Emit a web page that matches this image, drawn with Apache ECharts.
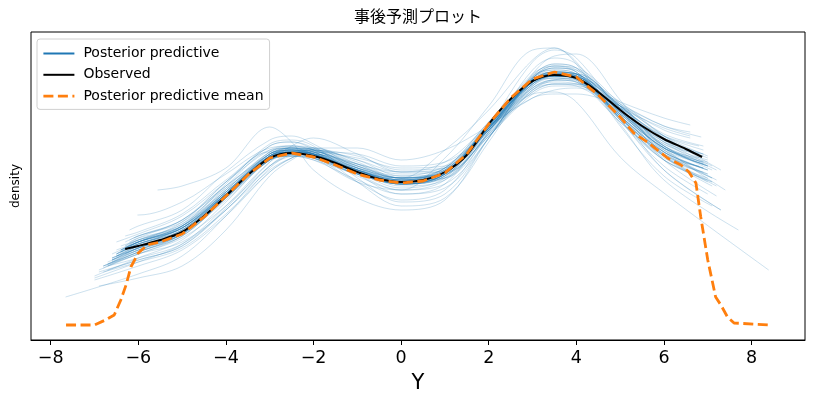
<!DOCTYPE html>
<html lang="ja">
<head>
    <meta charset="UTF-8">
    <title>事後予測プロット</title>
    <script src="https://cdn.jsdelivr.net/npm/echarts@6/dist/echarts.min.js"></script>
    <style>
        html, body { margin: 0; padding: 0; background: #fff; }
        #main { width: 814px; height: 404px; }
    </style>
</head>
<body>
<div id="main"></div>

<script type="text/javascript">
    // x tick labels
    var xTicks = [-8, -6, -4, -2, 0, 2, 4, 6, 8];

    // observed KDE (black)
    var obsX = [-6.3, -6, -5.5, -5, -4.5, -4, -3.5, -3, -2.5, -2, -1.5, -1, -0.5, 0, 0.5, 1, 1.5, 2, 2.5, 3, 3.5, 4, 4.5, 5, 5.5, 6, 6.5, 6.87];
    var obsY = [0.0385, 0.040, 0.043, 0.047, 0.055, 0.065, 0.0755, 0.084, 0.0865, 0.085, 0.0815, 0.077, 0.0735, 0.072, 0.073, 0.077, 0.0855, 0.101, 0.1135, 0.1225, 0.1255, 0.124, 0.117, 0.108, 0.100, 0.0935, 0.0885, 0.0845];

    // posterior predictive mean (orange dashed)
    var meanX = [-7.65, -7.0, -6.75, -6.55, -6.4, -6.28, -6.17, -6.0, -5.8, -5.5, -5, -4.5, -4, -3.5, -3, -2.5, -2, -1.5, -1, -0.5, 0, 0.5, 1, 1.5, 2, 2.5, 3, 3.5, 4, 4.5, 5, 5.31, 5.62, 6.08, 6.39, 6.57, 6.73, 6.84, 7.0, 7.18, 7.3, 7.45, 7.6, 8.42];
    var meanY = [0.0005, 0.0005, 0.003, 0.0055, 0.013, 0.0205, 0.0295, 0.0365, 0.0405, 0.042, 0.046, 0.0545, 0.065, 0.0755, 0.084, 0.0865, 0.0845, 0.0805, 0.076, 0.073, 0.0715, 0.0725, 0.0765, 0.086, 0.101, 0.114, 0.1235, 0.127, 0.1245, 0.1155, 0.1045, 0.0965, 0.092, 0.084, 0.0805, 0.077, 0.0715, 0.0545, 0.033, 0.0145, 0.0105, 0.0045, 0.0015, 0.0005];

    // posterior predictive samples (thin blue): values on a shared grid, each with its own start/end point
    var ppGrid = [-6, -5, -4, -3, -2.5, -2, -1, 0, 1, 2, 3, 3.5, 4, 5, 6];
    var ppStartX = [-6.5, -6.8, -6.2, -7.0, -6.6, -6.4, -6.3, -6.9, -6.7, -6.02, -6.5, -7.0, -6.3, -6.6, -6.8, -6.4, -6.3, -6.6, -6.5, -6.7,
        -5.56, -6.2, -6.9, -7.66, -6.8, -6.3, -6.5, -6.7, -7.0, -6.4, -6.6, -6.9, -6.1, -6.4, -6.6, -6.2, -6.8, -6.7, -6.5, -6.3,
        -6.4, -6.6, -6.3, -6.5, -6.7, -6.2, -6.4, -6.6, -6.5, -6.3, -6.8, -6.4, -6.5, -6.6, -6.2, -6.7, -6.4, -6.5, -6.3, -6.6];
    var ppStartY = [0.036, 0.030, 0.043, 0.025, 0.032, 0.040, 0.045, 0.028, 0.030, 0.0555, 0.042, 0.023, 0.036, 0.033, 0.030, 0.038, 0.040, 0.036, 0.035, 0.030,
        0.068, 0.048, 0.027, 0.0145, 0.030, 0.042, 0.038, 0.031, 0.024, 0.037, 0.033, 0.020, 0.044, 0.038, 0.034, 0.040, 0.027, 0.028, 0.036, 0.039,
        0.037, 0.033, 0.039, 0.035, 0.031, 0.041, 0.038, 0.034, 0.036, 0.040, 0.029, 0.038, 0.035, 0.033, 0.042, 0.032, 0.037, 0.036, 0.038, 0.034];
    var ppEndX = [6.9, 7.0, 6.8, 7.2, 7.1, 6.9, 6.6, 7.2, 7.1, 6.7, 6.6, 7.3, 7.0, 7.2, 7.3, 7.0, 6.6, 7.0, 7.1, 7.0,
        7.0, 6.8, 7.2, 7.4, 8.39, 6.6, 6.85, 7.3, 7.7, 7.1, 7.1, 7.1, 7.0, 6.9, 7.0, 6.9, 6.9, 7.0, 7.0, 6.9,
        6.9, 7.0, 6.9, 6.9, 7.1, 6.8, 6.9, 7.0, 7.0, 6.8, 7.1, 7.0, 6.9, 7.0, 6.8, 7.0, 6.9, 7.0, 6.9, 7.0];
    var ppEndY = [0.088, 0.080, 0.090, 0.070, 0.072, 0.086, 0.095, 0.078, 0.078, 0.087, 0.094, 0.078, 0.080, 0.065, 0.058, 0.066, 0.097, 0.080, 0.074, 0.084,
        0.072, 0.086, 0.073, 0.068, 0.028, 0.1005, 0.0945, 0.058, 0.048, 0.060, 0.070, 0.080, 0.078, 0.085, 0.082, 0.081, 0.090, 0.085, 0.083, 0.086,
        0.079, 0.076, 0.077, 0.082, 0.072, 0.080, 0.081, 0.081, 0.076, 0.084, 0.074, 0.073, 0.079, 0.080, 0.086, 0.074, 0.082, 0.078, 0.079, 0.078];
    var ppVals = [
        [0.042, 0.050, 0.068, 0.086, 0.088, 0.086, 0.078, 0.072, 0.076, 0.098, 0.121, 0.125, 0.124, 0.109, 0.095],
        [0.037, 0.045, 0.064, 0.085, 0.088, 0.087, 0.078, 0.071, 0.075, 0.099, 0.123, 0.127, 0.125, 0.106, 0.089],
        [0.045, 0.052, 0.069, 0.083, 0.085, 0.083, 0.076, 0.073, 0.079, 0.102, 0.122, 0.124, 0.122, 0.107, 0.095],
        [0.034, 0.043, 0.062, 0.084, 0.088, 0.088, 0.080, 0.072, 0.074, 0.097, 0.124, 0.129, 0.127, 0.105, 0.085],
        [0.038, 0.047, 0.066, 0.086, 0.089, 0.087, 0.077, 0.069, 0.074, 0.100, 0.126, 0.130, 0.127, 0.104, 0.083],
        [0.043, 0.051, 0.070, 0.088, 0.089, 0.086, 0.075, 0.068, 0.073, 0.098, 0.123, 0.127, 0.126, 0.110, 0.094],
        [0.047, 0.056, 0.073, 0.087, 0.087, 0.084, 0.076, 0.071, 0.076, 0.099, 0.119, 0.122, 0.121, 0.109, 0.099],
        [0.036, 0.044, 0.060, 0.080, 0.085, 0.086, 0.081, 0.076, 0.078, 0.098, 0.120, 0.124, 0.124, 0.110, 0.092],
        [0.036, 0.042, 0.058, 0.080, 0.086, 0.088, 0.083, 0.077, 0.079, 0.099, 0.121, 0.125, 0.124, 0.108, 0.090],
        [0.0555, 0.062, 0.076, 0.089, 0.090, 0.088, 0.080, 0.074, 0.077, 0.096, 0.117, 0.121, 0.120, 0.106, 0.093],
        [0.046, 0.055, 0.072, 0.088, 0.090, 0.088, 0.079, 0.072, 0.075, 0.095, 0.116, 0.120, 0.120, 0.110, 0.098],
        [0.030, 0.038, 0.055, 0.077, 0.084, 0.087, 0.084, 0.079, 0.080, 0.097, 0.118, 0.123, 0.124, 0.112, 0.095],
        [0.039, 0.046, 0.064, 0.085, 0.089, 0.089, 0.081, 0.073, 0.074, 0.095, 0.120, 0.126, 0.126, 0.110, 0.090],
        [0.038, 0.046, 0.066, 0.086, 0.088, 0.085, 0.072, 0.063, 0.068, 0.097, 0.128, 0.134, 0.131, 0.108, 0.083],
        [0.036, 0.045, 0.064, 0.083, 0.085, 0.083, 0.073, 0.066, 0.071, 0.100, 0.132, 0.138, 0.134, 0.106, 0.078],
        [0.042, 0.050, 0.069, 0.087, 0.089, 0.086, 0.077, 0.074, 0.088, 0.108, 0.133, 0.139, 0.132, 0.103, 0.080],
        [0.044, 0.053, 0.070, 0.086, 0.089, 0.088, 0.081, 0.077, 0.082, 0.100, 0.114, 0.116, 0.116, 0.110, 0.100],
        [0.042, 0.052, 0.072, 0.090, 0.092, 0.088, 0.072, 0.060, 0.064, 0.092, 0.124, 0.130, 0.129, 0.111, 0.090],
        [0.040, 0.050, 0.071, 0.091, 0.093, 0.090, 0.074, 0.062, 0.066, 0.094, 0.125, 0.131, 0.129, 0.109, 0.087],
        [0.034, 0.041, 0.058, 0.078, 0.084, 0.087, 0.086, 0.080, 0.082, 0.098, 0.117, 0.121, 0.121, 0.109, 0.094],
        [null, 0.070, 0.079, 0.0995, 0.092, 0.078, 0.064, 0.058, 0.063, 0.094, 0.124, 0.130, 0.128, 0.108, 0.085],
        [0.050, 0.058, 0.077, 0.093, 0.095, 0.091, 0.079, 0.071, 0.074, 0.096, 0.119, 0.123, 0.122, 0.108, 0.093],
        [0.033, 0.040, 0.058, 0.080, 0.087, 0.089, 0.082, 0.074, 0.076, 0.098, 0.122, 0.127, 0.126, 0.108, 0.088],
        [0.026, 0.035, 0.055, 0.079, 0.086, 0.088, 0.083, 0.075, 0.076, 0.096, 0.121, 0.126, 0.126, 0.110, 0.089],
        [0.037, 0.046, 0.066, 0.086, 0.089, 0.088, 0.080, 0.075, 0.080, 0.098, 0.116, 0.117, 0.112, 0.0845, 0.0665],
        [0.045, 0.053, 0.070, 0.085, 0.087, 0.085, 0.078, 0.074, 0.079, 0.099, 0.118, 0.121, 0.121, 0.112, 0.104],
        [0.042, 0.050, 0.067, 0.085, 0.087, 0.086, 0.078, 0.073, 0.077, 0.098, 0.119, 0.123, 0.122, 0.111, 0.100],
        [0.037, 0.046, 0.066, 0.087, 0.090, 0.089, 0.078, 0.070, 0.073, 0.097, 0.125, 0.131, 0.129, 0.103, 0.078],
        [0.032, 0.041, 0.060, 0.082, 0.087, 0.088, 0.081, 0.074, 0.077, 0.099, 0.124, 0.129, 0.127, 0.101, 0.073],
        [0.041, 0.049, 0.067, 0.085, 0.087, 0.084, 0.072, 0.068, 0.084, 0.110, 0.138, 0.139, 0.131, 0.100, 0.075],
        [0.039, 0.048, 0.066, 0.085, 0.088, 0.087, 0.076, 0.068, 0.071, 0.094, 0.126, 0.135, 0.136, 0.113, 0.085],
        [0.024, 0.030, 0.048, 0.075, 0.083, 0.088, 0.085, 0.078, 0.079, 0.098, 0.120, 0.125, 0.125, 0.110, 0.093],
        [0.045, 0.053, 0.072, 0.090, 0.092, 0.089, 0.076, 0.066, 0.069, 0.094, 0.124, 0.129, 0.128, 0.109, 0.088],
        [0.041, 0.049, 0.066, 0.084, 0.087, 0.086, 0.079, 0.074, 0.078, 0.100, 0.123, 0.126, 0.125, 0.108, 0.092],
        [0.039, 0.047, 0.065, 0.084, 0.087, 0.087, 0.080, 0.074, 0.077, 0.099, 0.122, 0.126, 0.125, 0.107, 0.090],
        [0.042, 0.050, 0.068, 0.087, 0.089, 0.087, 0.077, 0.071, 0.076, 0.101, 0.125, 0.128, 0.126, 0.107, 0.089],
        [0.032, 0.039, 0.056, 0.077, 0.084, 0.089, 0.089, 0.083, 0.088, 0.100, 0.114, 0.118, 0.119, 0.110, 0.096],
        [0.033, 0.040, 0.059, 0.082, 0.090, 0.094, 0.086, 0.077, 0.077, 0.095, 0.118, 0.123, 0.123, 0.111, 0.095],
        [0.041, 0.049, 0.067, 0.085, 0.088, 0.086, 0.077, 0.071, 0.075, 0.099, 0.123, 0.127, 0.126, 0.109, 0.091],
        [0.043, 0.051, 0.068, 0.086, 0.088, 0.086, 0.078, 0.072, 0.076, 0.099, 0.122, 0.126, 0.125, 0.108, 0.092],
        [0.041, 0.048, 0.066, 0.085, 0.087, 0.085, 0.077, 0.072, 0.077, 0.100, 0.123, 0.126, 0.124, 0.105, 0.087],
        [0.039, 0.047, 0.065, 0.083, 0.086, 0.085, 0.078, 0.073, 0.077, 0.099, 0.122, 0.125, 0.124, 0.104, 0.086],
        [0.042, 0.049, 0.067, 0.085, 0.087, 0.085, 0.076, 0.071, 0.076, 0.101, 0.124, 0.127, 0.125, 0.103, 0.084],
        [0.040, 0.047, 0.064, 0.083, 0.086, 0.086, 0.078, 0.073, 0.078, 0.100, 0.121, 0.124, 0.123, 0.106, 0.089],
        [0.038, 0.046, 0.065, 0.084, 0.087, 0.086, 0.077, 0.071, 0.076, 0.100, 0.123, 0.127, 0.126, 0.104, 0.085],
        [0.043, 0.049, 0.066, 0.084, 0.086, 0.084, 0.076, 0.072, 0.077, 0.101, 0.123, 0.125, 0.123, 0.102, 0.085],
        [0.042, 0.049, 0.066, 0.083, 0.085, 0.084, 0.077, 0.073, 0.079, 0.102, 0.123, 0.125, 0.123, 0.105, 0.088],
        [0.039, 0.046, 0.063, 0.083, 0.086, 0.086, 0.079, 0.074, 0.078, 0.099, 0.121, 0.125, 0.124, 0.107, 0.090],
        [0.041, 0.048, 0.066, 0.085, 0.088, 0.086, 0.077, 0.071, 0.075, 0.099, 0.123, 0.127, 0.126, 0.104, 0.085],
        [0.043, 0.050, 0.067, 0.084, 0.086, 0.084, 0.076, 0.071, 0.076, 0.100, 0.122, 0.125, 0.124, 0.106, 0.089],
        [0.037, 0.045, 0.064, 0.084, 0.087, 0.087, 0.079, 0.073, 0.077, 0.099, 0.122, 0.126, 0.125, 0.104, 0.086],
        [0.042, 0.049, 0.067, 0.086, 0.088, 0.086, 0.077, 0.071, 0.076, 0.100, 0.124, 0.128, 0.126, 0.103, 0.083],
        [0.040, 0.048, 0.066, 0.084, 0.086, 0.085, 0.078, 0.073, 0.078, 0.101, 0.123, 0.126, 0.124, 0.105, 0.087],
        [0.039, 0.047, 0.065, 0.085, 0.088, 0.087, 0.078, 0.072, 0.076, 0.098, 0.121, 0.125, 0.124, 0.107, 0.089],
        [0.044, 0.050, 0.066, 0.083, 0.085, 0.084, 0.077, 0.072, 0.077, 0.100, 0.122, 0.125, 0.124, 0.107, 0.091],
        [0.038, 0.046, 0.064, 0.083, 0.086, 0.086, 0.079, 0.074, 0.079, 0.101, 0.123, 0.126, 0.124, 0.102, 0.083],
        [0.041, 0.048, 0.066, 0.085, 0.087, 0.086, 0.077, 0.071, 0.076, 0.099, 0.122, 0.126, 0.125, 0.106, 0.089],
        [0.040, 0.047, 0.065, 0.084, 0.087, 0.086, 0.078, 0.072, 0.077, 0.100, 0.122, 0.125, 0.124, 0.105, 0.087],
        [0.042, 0.049, 0.066, 0.084, 0.086, 0.085, 0.077, 0.072, 0.077, 0.100, 0.123, 0.126, 0.124, 0.104, 0.086],
        [0.039, 0.047, 0.065, 0.084, 0.087, 0.086, 0.078, 0.072, 0.077, 0.100, 0.122, 0.126, 0.125, 0.105, 0.087]
    ];

    var myChart = echarts.init(document.getElementById('main'));

    function pairs(xs, ys) {
        var out = [];
        for (var i = 0; i < xs.length; i++) {
            if (ys[i] != null) out.push([xs[i], ys[i]]);
        }
        return out;
    }

    var series = [];
    for (var i = 0; i < ppVals.length; i++) {
        var d = [[ppStartX[i], ppStartY[i]]].concat(pairs(ppGrid, ppVals[i]));
        d.push([ppEndX[i], ppEndY[i]]);
        series.push({
            name: 'Posterior predictive',
            type: 'line',
            data: d,
            smooth: 0.35,
            symbol: 'none',
            silent: true,
            lineStyle: { color: '#1f77b4', width: 0.9, opacity: 0.25 }
        });
    }
    series.push({
        name: 'Observed',
        type: 'line',
        data: pairs(obsX, obsY),
        smooth: 0.3,
        symbol: 'none',
        lineStyle: { color: '#000000', width: 2 }
    });
    series.push({
        name: 'Posterior predictive mean',
        type: 'line',
        data: pairs(meanX, meanY),
        symbol: 'none',
        lineStyle: { color: '#ff7f0e', width: 2.8, type: [10, 4.5] }
    });

    var option = {
        backgroundColor: '#ffffff',
        animation: false,
        title: {
            text: '事後予測プロット',
            left: 418,
            textAlign: 'center',
            top: 8,
            padding: 0,
            textStyle: {
                fontFamily: '"Noto Sans CJK JP"',
                fontSize: 16,
                fontWeight: 'normal',
                color: '#000'
            }
        },
        legend: {
            orient: 'vertical',
            left: 37,
            top: 39,
            padding: [7.5, 6, 6.3, 5],
            itemWidth: 31,
            itemHeight: 14,
            itemGap: 7.3,
            borderColor: '#d0d0d0',
            borderWidth: 1,
            borderRadius: 3,
            backgroundColor: 'rgba(255,255,255,0.8)',
            itemStyle: { opacity: 0 },
            textStyle: {
                fontFamily: 'DejaVu Sans',
                fontSize: 14,
                color: '#000',
                padding: [0, 0, 0, 4]
            },
            data: [
                { name: 'Posterior predictive', itemStyle: { opacity: 0 }, lineStyle: { color: '#1f77b4', opacity: 1, width: 2 } },
                { name: 'Observed', itemStyle: { opacity: 0 }, lineStyle: { color: '#000', width: 2 } },
                { name: 'Posterior predictive mean', itemStyle: { opacity: 0 }, lineStyle: { color: '#ff7f0e', width: 2.8, type: [10, 4.5] } }
            ]
        },
        grid: {
            left: 31,
            right: 9,
            top: 32,
            bottom: 64,
            show: true,
            borderColor: '#000',
            borderWidth: 1
        },
        xAxis: {
            type: 'value',
            min: -8.45,
            max: 9.22,
            name: 'Y',
            nameLocation: 'middle',
            nameGap: 33,
            nameTextStyle: { fontFamily: 'DejaVu Sans', fontSize: 21, color: '#000' },
            axisLine: { show: true, onZero: false, lineStyle: { color: '#000', width: 1 } },
            axisTick: { show: true, length: 5, lineStyle: { color: '#000', width: 1 }, customValues: xTicks },
            axisLabel: {
                customValues: xTicks,
                margin: 9,
                fontFamily: 'DejaVu Sans',
                fontSize: 17.5,
                color: '#000',
                formatter: function (v) { return String(v).replace('-', '\u2212'); }
            },
            splitLine: { show: false }
        },
        yAxis: {
            type: 'value',
            min: -0.007,
            max: 0.147,
            name: 'density',
            nameLocation: 'middle',
            nameGap: 9,
            nameTextStyle: { fontFamily: 'DejaVu Sans', fontSize: 12, color: '#000' },
            axisLine: { show: false },
            axisTick: { show: false },
            axisLabel: { show: false },
            splitLine: { show: false }
        },
        series: series
    };
    myChart.setOption(option);
</script>
</body>
</html>
